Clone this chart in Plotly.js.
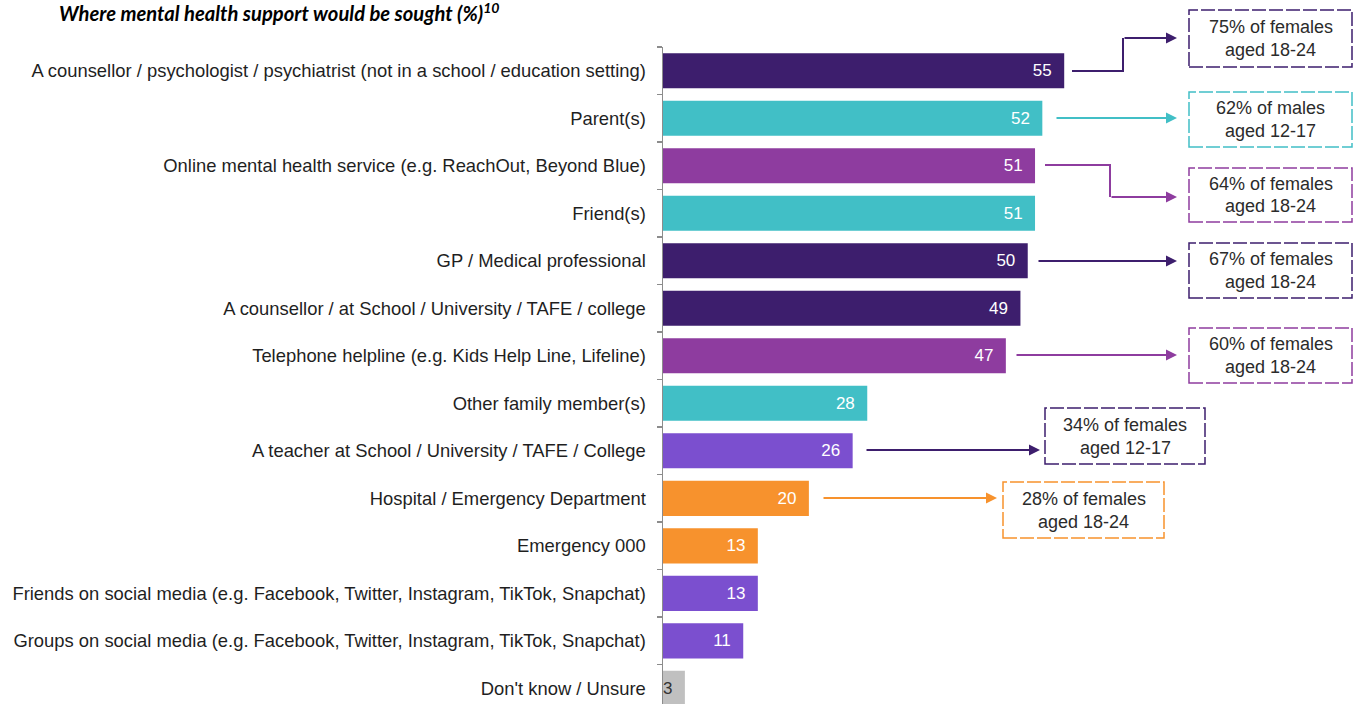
<!DOCTYPE html>
<html>
<head>
<meta charset="utf-8">
<script src="https://cdn.plot.ly/plotly-3.0.1.min.js"></script>
<style>
html,body{margin:0;padding:0;background:#fff;}
#chart{width:1360px;height:704px;}
</style>
</head>
<body>
<div id="chart"></div>
<script>
// ---- data ----
const categories = [
  "A counsellor / psychologist / psychiatrist (not in a school / education setting)",
  "Parent(s)",
  "Online mental health service (e.g. ReachOut, Beyond Blue)",
  "Friend(s)",
  "GP / Medical professional",
  "A counsellor / at School / University / TAFE / college",
  "Telephone helpline (e.g. Kids Help Line, Lifeline)",
  "Other family member(s)",
  "A teacher at School / University / TAFE / College",
  "Hospital / Emergency Department",
  "Emergency 000",
  "Friends on social media (e.g. Facebook, Twitter, Instagram, TikTok, Snapchat)",
  "Groups on social media (e.g. Facebook, Twitter, Instagram, TikTok, Snapchat)",
  "Don't know / Unsure"
];
const values = [55, 52, 51, 51, 50, 49, 47, 28, 26, 20, 13, 13, 11, 3];

const calloutPct   = ["75%", "62%", "64%", "67%", "60%", "34%", "28%"];
const calloutGroup = ["of females", "of males", "of females", "of females", "of females", "of females", "of females"];
const calloutAge   = ["aged 18-24", "aged 12-17", "aged 18-24", "aged 18-24", "aged 18-24", "aged 12-17", "aged 18-24"];

// ---- styles ----
const C = {
  dark: "#3d1e6d", teal: "#41bfc6", mag: "#8e3c9f", med: "#7b4fcf",
  orange: "#f7922d", gray: "#c0c0c0"
};
const barColors = [C.dark, C.teal, C.mag, C.teal, C.dark, C.dark, C.mag, C.teal, C.med, C.orange, C.orange, C.med, C.med, C.gray];
const textColors = values.map((v, i) => i === values.length - 1 ? "#333333" : "#ffffff");
const calloutColor = [C.dark, C.teal, C.mag, C.dark, C.mag, C.dark, C.orange];
const FONT = "Liberation Sans, Arial, sans-serif";

// layout geometry (pixels)
const W = 1360, H = 704, L = 663, T = 47, R = 4, B = 0;
const PW = W - L - R, PH = H - T - B;
const px = x => (x - L) / PW;
const py = y => 1 - (y - T) / PH;

const boxes = [
  [1189, 10, 1352, 67],
  [1189, 92, 1352, 147],
  [1189, 168, 1352, 222],
  [1189, 243, 1352, 298],
  [1189, 328, 1352, 383],
  [1045, 408, 1205, 464],
  [1003, 482, 1164, 538]
];
const arrows = [
  [[1072, 71], [1123, 71], [1123, 38], [1177, 38]],
  [[1055, 118], [1177, 118]],
  [[1045, 165], [1110, 165], [1110, 197], [1177, 197]],
  [[1037, 261], [1177, 261]],
  [[1015, 355], [1177, 355]],
  [[865, 450], [1040, 450]],
  [[822, 498], [997, 498]]
];

const shapes = [];
const annotations = [];

boxes.forEach((b, i) => {
  shapes.push({
    type: "rect", xref: "paper", yref: "paper",
    x0: px(b[0]), x1: px(b[2]), y0: py(b[3]), y1: py(b[1]),
    line: {color: calloutColor[i], width: 1.5, dash: "14px,3px"},
    fillcolor: "rgba(0,0,0,0)"
  });
  const cx = (b[0] + b[2]) / 2, cy = (b[1] + b[3]) / 2;
  annotations.push({
    xref: "paper", yref: "paper", x: px(cx), y: py(cy - 11.5),
    text: calloutPct[i] + " " + calloutGroup[i],
    showarrow: false, xanchor: "center", yanchor: "middle",
    font: {family: FONT, size: 18, color: "#2b2b2b"}
  });
  annotations.push({
    xref: "paper", yref: "paper", x: px(cx), y: py(cy + 11.5),
    text: calloutAge[i],
    showarrow: false, xanchor: "center", yanchor: "middle",
    font: {family: FONT, size: 18, color: "#2b2b2b"}
  });
});

arrows.forEach((pts, i) => {
  const col = calloutColor[i];
  if (pts.length > 2) {
    let d = "M " + px(pts[0][0]) + " " + py(pts[0][1]);
    for (let k = 1; k < pts.length - 1; k++) d += " L " + px(pts[k][0]) + " " + py(pts[k][1]);
    shapes.push({type: "path", xref: "paper", yref: "paper", path: d, line: {color: col, width: 2}});
  }
  const a = pts[pts.length - 2], t = pts[pts.length - 1];
  annotations.push({
    xref: "paper", yref: "paper", x: px(t[0]), y: py(t[1]),
    ax: a[0] - t[0], ay: a[1] - t[1], axref: "pixel", ayref: "pixel",
    text: "", showarrow: true, arrowhead: 2, arrowsize: 1.1, arrowwidth: 2,
    arrowcolor: col, standoff: 0, startstandoff: 0
  });
});

// title
annotations.push({
  xref: "paper", yref: "paper", x: px(57), y: py(12), xanchor: "left", yanchor: "middle",
  text: "<b><i>Where mental health support would be sought (%)<sup>10</sup></i></b>",
  showarrow: false,
  font: {family: "Lato, Open Sans, sans-serif", size: 20.2, color: "#000000"}
});

const trace = {
  type: "bar", orientation: "h",
  y: categories, x: values,
  marker: {color: barColors, line: {width: 0}},
  text: values.map(v => String(v) + "\u00a0\u00a0"),
  textposition: "inside", insidetextanchor: "end", textangle: 0,
  textfont: {family: FONT, size: 17, color: textColors},
  constraintext: "none",
  hoverinfo: "none", cliponaxis: false
};

const layout = {
  width: W, height: H,
  margin: {l: L, r: R, t: T, b: B, pad: 0},
  paper_bgcolor: "#ffffff", plot_bgcolor: "#ffffff",
  bargap: 0.26,
  showlegend: false,
  xaxis: {range: [0, 95], showgrid: false, zeroline: false, showticklabels: false, showline: false, fixedrange: true},
  yaxis: {
    type: "category", range: [13.33, -0.5],
    showline: true, linecolor: "#8c8c8c", linewidth: 1.5,
    ticks: "outside", tickson: "boundaries", ticklen: 5, tickcolor: "#8c8c8c", tickwidth: 1.5,
    showgrid: false, zeroline: false, ticklabelstandoff: 12,
    tickfont: {family: FONT, size: 18.4, color: "#1f1f1f"},
    automargin: false, fixedrange: true
  },
  shapes: shapes,
  annotations: annotations
};

Plotly.newPlot("chart", [trace], layout, {displayModeBar: false, staticPlot: true});
</script>
</body>
</html>
